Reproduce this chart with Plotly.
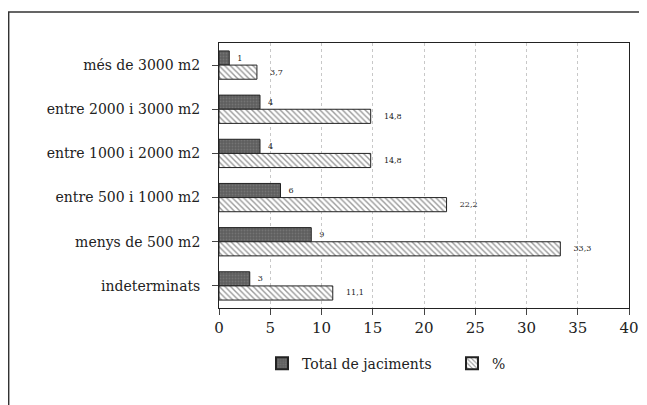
import plotly.graph_objects as go

categories = ["més de 3000 m2", "entre 2000 i 3000 m2", "entre 1000 i 2000 m2",
              "entre 500 i 1000 m2", "menys de 500 m2", "indeterminats"]
total = [1, 4, 4, 6, 9, 3]
percent = [3.7, 14.8, 14.8, 22.2, 33.3, 11.1]
x_ticks = [0, 5, 10, 15, 20, 25, 30, 35, 40]

serif = "DejaVu Serif, Liberation Serif, serif"

fig = go.Figure()
fig.add_trace(go.Bar(
    y=categories, x=total, orientation="h", name="Total de jaciments",
    marker=dict(color="#6e6e6e", line=dict(color="#222", width=1),
                pattern=dict(shape=".", fgcolor="#8a8a8a", bgcolor="#5e5e5e", size=3, solidity=0.3)),
    text=[str(v) for v in total], textposition="outside", cliponaxis=False,
    texttemplate="  %{text}",
    textfont=dict(family=serif, size=8, color="#222"),
))
fig.add_trace(go.Bar(
    y=categories, x=percent, orientation="h", name="%",
    marker=dict(color="white", line=dict(color="#222", width=1),
                pattern=dict(shape="\\", fgcolor="#333", bgcolor="white", size=4, solidity=0.35)),
    text=[f"{v:.1f}".replace(".", ",") for v in percent], textposition="outside", cliponaxis=False,
    texttemplate="    %{text}",
    textfont=dict(family=serif, size=8, color="#222"),
))

fig.update_layout(
    width=639, height=397,
    margin=dict(l=211, r=18, t=35, b=97, autoexpand=False),
    paper_bgcolor="white", plot_bgcolor="white",
    barmode="group", bargap=0.36, bargroupgap=0,
    font=dict(family=serif, size=14, color="#222"),
    showlegend=True,
    legend=dict(orientation="h", xref="container", x=0.3975, xanchor="left",
                y=-0.15, yanchor="top",
                font=dict(family=serif, size=14), traceorder="normal",
                entrywidth=145, entrywidthmode="pixels",
                itemsizing="constant"),
    xaxis=dict(range=[0, 40], tickvals=x_ticks, ticktext=[str(t) for t in x_ticks],
               showgrid=True, gridcolor="#c8c8c8", griddash="dot", gridwidth=1,
               showline=True, linecolor="#222", linewidth=1, mirror=True,
               ticks="outside", ticklen=6, tickcolor="#444", zeroline=False,
               tickfont=dict(family=serif, size=15)),
    yaxis=dict(autorange="reversed", showline=True, linecolor="#222", linewidth=1, mirror=True,
               ticks="outside", ticklen=6, tickcolor="#444", showgrid=False,
               tickfont=dict(family=serif, size=14), ticksuffix="  "),
    shapes=[dict(type="rect", xref="paper", yref="paper",
                 x0=-0.513, x1=1.039, y0=-0.5, y1=1.117,
                 line=dict(color="#333", width=1.5))],
)

fig.write_html("out.html")
